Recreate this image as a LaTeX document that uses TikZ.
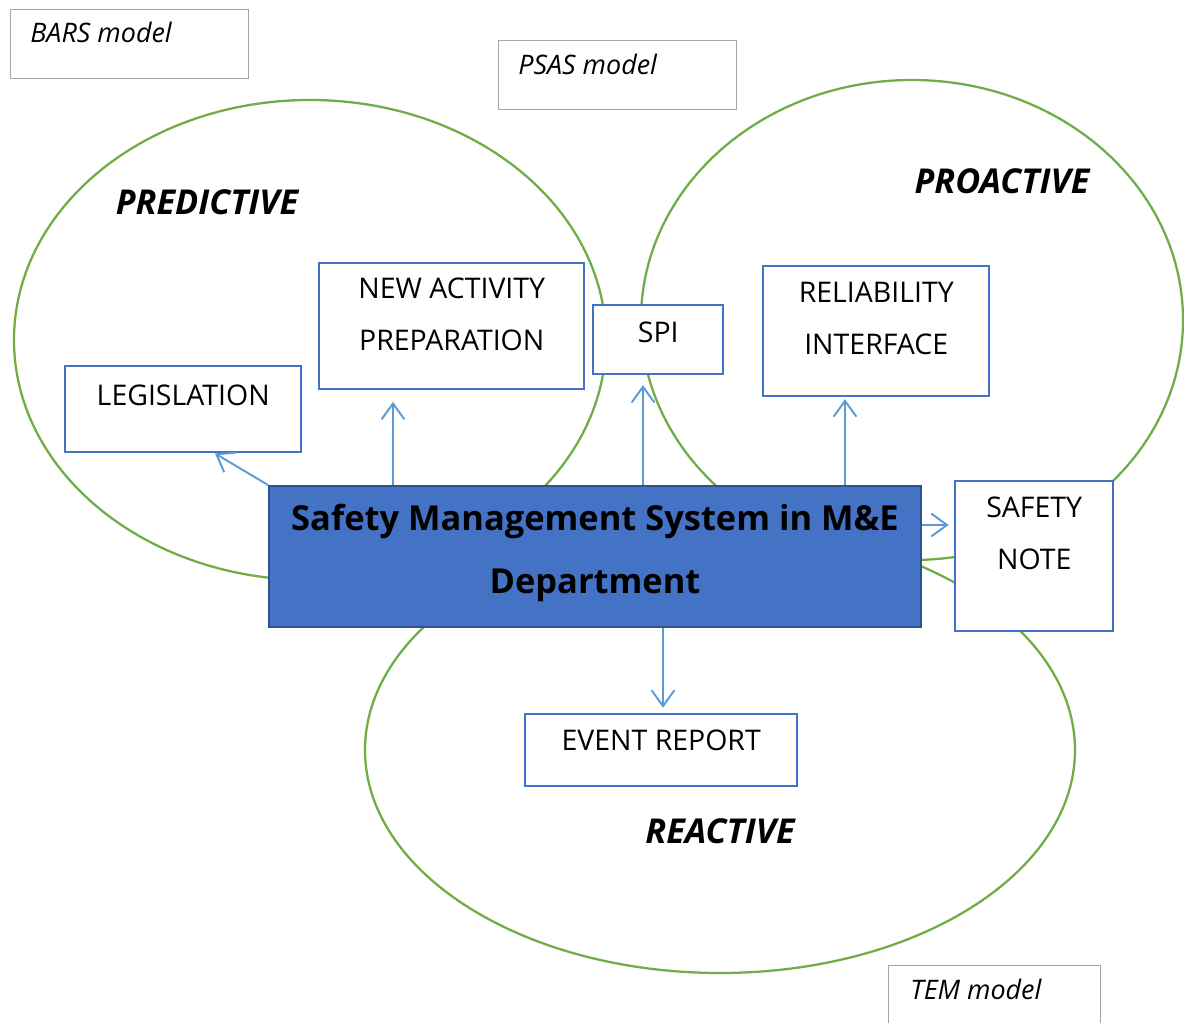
\documentclass[tikz,border=0pt]{standalone}
\usepackage{fontspec}
\setmainfont{Open Sans}
\usetikzlibrary{positioning,calc,arrows.meta}
\definecolor{smsGreenLine}{HTML}{70AD47}
\definecolor{smsBlueLine}{HTML}{4472C4}
\definecolor{smsBlueFill}{HTML}{4472C4}
\definecolor{smsBlueEdge}{HTML}{2F528F}
\definecolor{smsArrow}{HTML}{5B9BD5}
\definecolor{smsGreyLine}{HTML}{A6A6A6}

\tikzset{
  zone/.style={smsGreenLine, line width=1.3pt},
  box/.style={draw=smsBlueLine, fill=white, line width=1.4pt, inner sep=0pt},
  boxtext/.style={font=\fontsize{16.2}{29.5}\selectfont, align=center,
    inner sep=0pt, anchor=north},
  mainbox/.style={draw=smsBlueEdge, fill=smsBlueFill, line width=1.2pt, inner sep=0pt},
  maintext/.style={font=\fontsize{19.6}{36.3}\selectfont\bfseries, align=center, inner sep=0pt},
  modelbox/.style={draw=smsGreyLine, fill=white, line width=0.8pt, inner sep=0pt},
  modeltext/.style={font=\fontsize{15.3}{18}\selectfont\itshape, anchor=base west, inner sep=0pt},
  zonetitle/.style={font=\fontsize{19.5}{24}\selectfont\bfseries\itshape, anchor=base, inner sep=0pt},
  flow/.style={smsArrow, line width=1.1pt, -{Straight Barb[length=9pt,width=13pt]}},
}

\begin{document}
\begin{tikzpicture}[x=0.02cm, y=-0.02cm]

% --- CANVAS (pixel grid, y down) ---
\useasboundingbox (0,0) rectangle (1184,1023);
\clip (0,0) rectangle (1184,1023);

% --- ZONES ---
\draw[zone] (310,340) ellipse [x radius=296, y radius=240];   % predictive
\draw[zone] (912,320) ellipse [x radius=271, y radius=240];   % proactive
\draw[zone] (720,750) ellipse [x radius=355, y radius=223];   % reactive

\node[zonetitle] (t-pred)  at (207,215)  {PREDICTIVE};
\node[zonetitle] (t-proa)  at (1002,194) {PROACTIVE};
\node[zonetitle] (t-reac)  at (720,844)  {REACTIVE};

% --- MODEL TAGS ---
\foreach \nm/\xa/\ya/\xb/\yb/\tx/\ty/\txt in {
    bars/10/9/248/78/30/43/{BARS model},
    psas/498/40/736/109/518/75/{PSAS model},
    tem/888/965/1100/1035/910/999/{TEM model}} {
  \pgfmathsetmacro\bw{(\xb-\xa)*0.02}
  \pgfmathsetmacro\bh{(\yb-\ya)*0.02}
  \node[modelbox, minimum width=\bw cm, minimum height=\bh cm, anchor=north west]
    (\nm) at (\xa,\ya) {};
  \node[modeltext] (\nm-txt) at (\tx,\ty) {\txt};
}

% --- ACTIVITY BOXES ---
\foreach \nm/\xa/\ya/\xb/\yb/\ty/\txt in {
    legis/64/365/300/451/385/{LEGISLATION},
    newact/318/262/583/388/278/{NEW ACTIVITY\\PREPARATION},
    spi/592/304/722/373/322/{SPI},
    reli/762/265/988/395/282/{RELIABILITY\\INTERFACE},
    safety/954/480/1112/630/497/{SAFETY\\NOTE},
    event/524/713/796/785/730/{EVENT REPORT}} {
  \pgfmathsetmacro\bw{(\xb-\xa)*0.02}
  \pgfmathsetmacro\bh{(\yb-\ya)*0.02}
  \node[box, minimum width=\bw cm, minimum height=\bh cm, anchor=north west]
    (\nm) at (\xa,\ya) {};
  \node[boxtext] (\nm-txt) at (\nm.north |- 0,\ty) {\txt};
}

% --- CENTRAL SYSTEM ---
\node[mainbox, minimum width=13.04cm, minimum height=2.82cm, anchor=north west]
  (main) at (268,485) {};
\node[maintext] (main-txt) at ([yshift=2pt]main.center)
  {Safety Management System in M\&E\\Department};

% --- LINKS ---
\draw[flow] (main.north west) -- (legis.south -| 215,0);
\draw[flow, shorten >=6.5pt] (main.north -| 393,0) -- (newact.south -| 393,0);
\draw[flow, shorten >=5.5pt] (main.north -| 643,0) -- (spi.south -| 643,0);
\draw[flow, shorten >=1pt]   (main.north -| 845,0) -- (reli.south -| 845,0);
\draw[flow, shorten >=3pt]   (main.east |- 0,525)  -- (safety.west |- 0,525);
\draw[flow, shorten >=3pt]   (main.south -| 663,0) -- (event.north -| 663,0);

\end{tikzpicture}
\end{document}
